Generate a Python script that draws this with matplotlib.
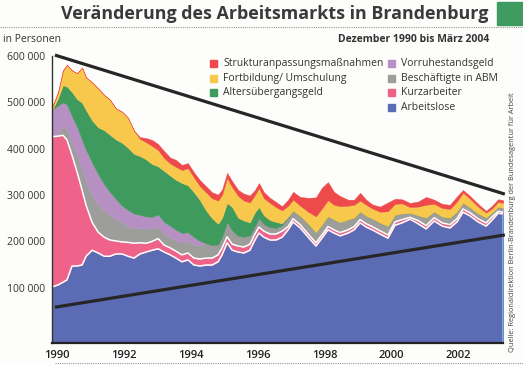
import numpy as np
import matplotlib
matplotlib.use("Agg")
import matplotlib.pyplot as plt
from matplotlib.patches import Rectangle
from matplotlib.lines import Line2D

# values in thousand persons
years = [1989.87, 1990.04, 1990.19, 1990.31, 1990.46, 1990.61, 1990.76, 1990.88, 1991.06, 1991.24,
         1991.42, 1991.59, 1991.77, 1991.95, 1992.13, 1992.31, 1992.49, 1992.67, 1992.85, 1993.03,
         1993.21, 1993.39, 1993.56, 1993.74, 1993.92, 1994.10, 1994.28, 1994.46, 1994.64, 1994.82,
         1994.94, 1995.09, 1995.24, 1995.42, 1995.59, 1995.77, 1995.92, 1996.04, 1996.19, 1996.37,
         1996.55, 1996.73, 1996.91, 1997.06, 1997.27, 1997.51, 1997.74, 1997.92, 1998.10, 1998.28,
         1998.46, 1998.70, 1998.88, 1999.06, 1999.24, 1999.42, 1999.65, 1999.89, 2000.10, 2000.31,
         2000.55, 2000.79, 2001.03, 2001.27, 2001.51, 2001.74, 2001.95, 2002.13, 2002.34, 2002.58,
         2002.82, 2003.00, 2003.18, 2003.33]

arbeitslose = [102, 106, 112, 117, 147, 147, 149, 168, 181, 175,
               168, 168, 173, 173, 168, 164, 173, 177, 181, 184,
               177, 171, 164, 156, 160, 149, 147, 149, 149, 156,
               171, 197, 181, 177, 175, 181, 203, 218, 209, 203,
               203, 209, 225, 242, 229, 209, 190, 207, 225, 218,
               212, 218, 225, 240, 231, 225, 216, 207, 235, 240,
               248, 238, 227, 244, 233, 229, 242, 263, 255, 242,
               233, 246, 261, 259]
kurzarbeiter = [324, 321, 317, 302, 239, 203, 162, 110, 60, 45,
                41, 35, 28, 26, 30, 32, 24, 19, 19, 22,
                15, 15, 15, 15, 15, 15, 15, 15, 15, 15,
                15, 13, 13, 13, 13, 13, 13, 13, 13, 13,
                13, 13, 7, 7, 7, 7, 7, 7, 7, 7,
                7, 7, 7, 7, 7, 7, 7, 7, 7, 7,
                4, 7, 7, 7, 7, 7, 7, 7, 7, 7,
                7, 7, 4, 4]
abm = [0, 6, 19, 22, 26, 37, 43, 50, 58, 58,
       58, 54, 47, 43, 35, 32, 32, 32, 28, 26,
       24, 22, 24, 26, 26, 28, 30, 32, 28, 22,
       24, 32, 30, 22, 22, 19, 17, 19, 15, 15,
       13, 13, 19, 17, 19, 22, 22, 22, 22, 22,
       22, 22, 19, 17, 17, 17, 17, 19, 15, 13,
       9, 11, 17, 13, 13, 15, 15, 13, 11, 11,
       11, 9, 9, 9]
vorruhestand = [58, 60, 52, 54, 58, 60, 65, 69, 71, 67,
                56, 50, 43, 35, 35, 32, 28, 26, 25, 26,
                26, 26, 22, 21, 19, 17, 9] + [0] * 47
altersuebergang = [0, 15, 37, 39, 52, 60, 80, 86, 91, 101,
                   117, 123, 129, 136, 134, 129, 127, 123, 114, 104,
                   110, 108, 108, 108, 101, 97, 88, 71, 58, 45,
                   41, 41, 50, 39, 35, 28, 30, 24, 19, 15,
                   13, 4, 2] + [0] * 31
fortbildung = [6, 13, 32, 47, 47, 56, 76, 71, 82, 84,
               76, 76, 67, 67, 65, 50, 37, 37, 39, 35,
               28, 26, 28, 28, 37, 32, 30, 39, 43, 50,
               50, 54, 43, 47, 43, 43, 37, 41, 37, 37,
               32, 28, 24, 24, 22, 26, 35, 35, 35, 32,
               35, 30, 28, 24, 24, 22, 24, 32, 24, 22,
               13, 19, 28, 17, 19, 19, 22, 22, 19, 15,
               11, 9, 11, 11]
strukturanpassung = [0] * 16 + [4, 9, 13, 13, 15, 13, 15, 11, 11, 11,
                                13, 13, 13, 13, 11, 11, 13, 13, 15, 15,
                                11, 11, 13, 11, 11, 9, 13, 17, 19, 30,
                                41, 45, 39, 28, 22, 13, 11, 17, 11, 9,
                                11, 19, 11, 9, 9, 11, 17, 9, 9, 9,
                                11, 6, 6, 6, 4, 6, 6, 6]

# the two black trend lines
trend_years = [1989.95, 2003.38]
trend_upper = [602000, 302000]
trend_lower = [58000, 214000]

y_labels = ["100 000", "200 000", "300 000", "400 000", "500 000", "600 000"]
x_ticks = [1990, 1992, 1994, 1996, 1998, 2000, 2002]

series = [
    ("Arbeitslose", arbeitslose, "#5b6cb4"),
    ("Kurzarbeiter", kurzarbeiter, "#ef638a"),
    ("Beschäftigte in ABM", abm, "#9d9d9b"),
    ("Vorruhestandsgeld", vorruhestand, "#b690c2"),
    ("Altersübergangsgeld", altersuebergang, "#3f9a5e"),
    ("Fortbildung/ Umschulung", fortbildung, "#f8c84c"),
    ("Strukturanpassungsmaßnahmen", strukturanpassung, "#ee4a4c"),
]
colors = {name: c for name, _, c in series}

plt.rcParams["font.family"] = ["Open Sans", "DejaVu Sans"]

W, H = 523, 366
fig = plt.figure(figsize=(W / 100, H / 100), dpi=100)
fig.patch.set_facecolor("#fdfdfb")
ax = fig.add_axes([52 / W, 1 - 343 / H, 451 / W, 287 / H])
ax.set_facecolor("none")

ymin, ymax = -19200, 599700
x = np.array(years)
vals = np.array([v for _, v, _ in series], dtype=float) * 1000
cum = np.cumsum(vals, axis=0)

lower = np.full_like(x, ymin)
for i, (name, _, c) in enumerate(series):
    ax.fill_between(x, lower, cum[i], color=c, lw=0.3, ec=c)
    lower = cum[i]

# white seams above the blue and the pink layer
ax.plot(x, cum[0], color="white", lw=1.1)
ax.plot(x, cum[1], color="white", lw=1.1)
ax.vlines(x[-1], ymin, cum[0][-1], color="#7ec0ea", lw=1.2)

ax.plot(trend_years, trend_upper, color="#262626", lw=2.3, clip_on=False,
        solid_capstyle="butt")
ax.plot(trend_years, trend_lower, color="#262626", lw=2.3, clip_on=False,
        solid_capstyle="butt")

ax.set_xlim(1989.863, 2003.325)
ax.set_ylim(ymin, ymax)
ax.set_yticks([100000, 200000, 300000, 400000, 500000, 600000])
ax.set_yticklabels(y_labels)
ax.set_xticks(x_ticks)
ax.set_xticklabels([str(t) for t in x_ticks])
ax.tick_params(axis="y", length=0, pad=5, labelsize=7.5, colors="#333333")
ax.tick_params(axis="x", length=0, pad=5, labelsize=8, colors="#222222")
for lab in ax.get_xticklabels():
    lab.set_fontweight("semibold")

for s in ["top", "right"]:
    ax.spines[s].set_visible(False)
ax.spines["left"].set_color("#333333")
ax.spines["left"].set_linewidth(1.0)
ax.spines["bottom"].set_color("#222222")
ax.spines["bottom"].set_linewidth(1.6)

# header
fig.text(488 / W, 1 - 19 / H, "Veränderung des Arbeitsmarkts in Brandenburg",
         ha="right", va="baseline", fontsize=12.9, fontweight="bold", color="#3a3a3a")
fig.add_artist(Rectangle((497 / W, 1 - 25 / H), 26 / W, 23 / H,
                         transform=fig.transFigure, color="#3f9a5f"))
fig.add_artist(Line2D([0, 1], [1 - 27 / H] * 2, transform=fig.transFigure,
                      ls=(0, (1, 1)), color="#9a9a9a", lw=0.8))
fig.add_artist(Line2D([55 / W, 1], [1 - 363 / H] * 2, transform=fig.transFigure,
                      ls=(0, (1, 1)), color="#9a9a9a", lw=0.8))
fig.text(3 / W, 1 - 40 / H, "in Personen", ha="left", va="center",
         fontsize=7.5, color="#333333")
fig.text(489 / W, 1 - 40 / H, "Dezember 1990 bis März 2004", ha="right", va="center",
         fontsize=7.5, fontweight="bold", color="#333333")

# legend
legend_cols = [
    (210, ["Strukturanpassungsmaßnahmen", "Fortbildung/ Umschulung", "Altersübergangsgeld"]),
    (388, ["Vorruhestandsgeld", "Beschäftigte in ABM", "Kurzarbeiter", "Arbeitslose"]),
]
for col_x, names in legend_cols:
    for row, name in enumerate(names):
        yc = 63.5 + row * 14.7
        fig.add_artist(Rectangle((col_x / W, 1 - (yc + 3.5) / H), 7 / W, 7 / H,
                                 transform=fig.transFigure, color=colors[name]))
        fig.text((col_x + 13) / W, 1 - yc / H, name, ha="left", va="center",
                 fontsize=7.5, color="#333333")

fig.text(512 / W, 1 - 222 / H,
         "Quelle: Regionaldirektion Berlin-Brandenburg der Bundesagentur für Arbeit",
         rotation=90, ha="center", va="center", fontsize=5.3, color="#444444")

fig.savefig("out.png", dpi=100, facecolor=fig.get_facecolor())
